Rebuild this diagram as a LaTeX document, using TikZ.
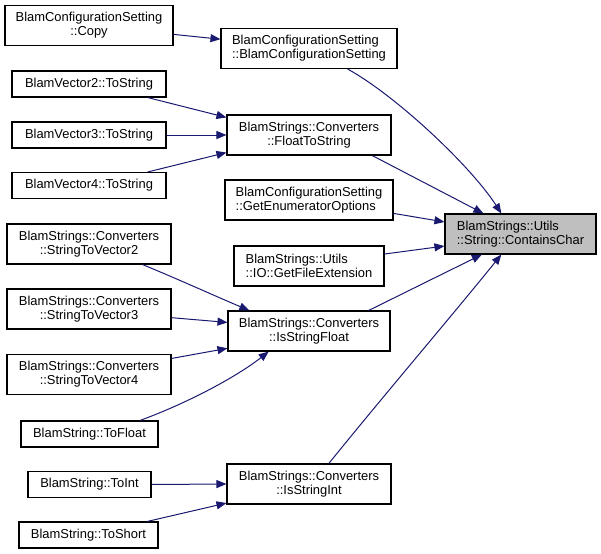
\documentclass[tikz,border=0pt]{standalone}
\usepackage{fontspec}
\setmainfont{Liberation Sans}
\usetikzlibrary{arrows.meta}
\definecolor{callnavy}{HTML}{191970}
\definecolor{callgray}{HTML}{BFBFBF}
\definecolor{callwhite}{HTML}{FFFFFF}

\begin{document}
\begin{tikzpicture}[x=0.75pt,y=-0.75pt, %1 unit = 1 pixel of the 601x554 graph, y runs down
  fn/.style={draw=black, line width=0.8pt, fill=callwhite, inner sep=0pt, align=center,
    font=\fontsize{9.7}{10.5}\selectfont, minimum height=40*0.75pt},
  fnone/.style={fn, minimum height=26*0.75pt},
  wd/.style={minimum width=#1*0.75pt},
  callee/.style={fn, fill=callgray},
  call/.style={draw=callnavy, line width=0.75pt, -{Triangle[length=7.5pt,width=6pt]}}]
\useasboundingbox (0,0) rectangle (601,554); %Page size of the graph
%Right column: the function itself
\node[callee, wd=151, align=left] (cc) at (520.5,234) {BlamStrings::Utils\\::String::ContainsChar};
%Middle column: direct callers
\node[fn, wd=176, align=left] (bcs) at (309,48.5) {BlamConfigurationSetting\\::BlamConfigurationSetting};
\node[fn, wd=164] (fts) at (309,135) {BlamStrings::Converters\\::FloatToString};
\node[fn, wd=168, align=left] (geo) at (309,200) {BlamConfigurationSetting\\::GetEnumeratorOptions};
\node[fn, wd=150, align=left] (gfe) at (309,266) {BlamStrings::Utils\\::IO::GetFileExtension};
\node[fn, wd=162] (isf) at (309,331) {BlamStrings::Converters\\::IsStringFloat};
\node[fn, wd=164] (isi) at (309,484) {BlamStrings::Converters\\::IsStringInt};
%Left column: callers of the callers
\node[fn, wd=168] (copy) at (89,25.5) {BlamConfigurationSetting\\::Copy};
\node[fnone, wd=154] (vtwo) at (89,84) {BlamVector2::ToString};
\node[fnone, wd=154] (vthree) at (89,135) {BlamVector3::ToString};
\node[fnone, wd=154] (vfour) at (89,185.5) {BlamVector4::ToString};
\node[fn, wd=164] (stvtwo) at (89,244) {BlamStrings::Converters\\::StringToVector2};
\node[fn, wd=164] (stvthree) at (89,309) {BlamStrings::Converters\\::StringToVector3};
\node[fn, wd=164] (stvfour) at (89,374.5) {BlamStrings::Converters\\::StringToVector4};
\node[fnone, wd=137] (tofloat) at (89.5,434) {BlamString::ToFloat};
\node[fnone, wd=123] (toint) at (89.5,484.5) {BlamString::ToInt};
\node[fnone, wd=139] (toshort) at (88.5,535) {BlamString::ToShort};
%Calls into ContainsChar
\draw[call] (bcs.-28) .. controls (395,95) and (470,165) .. (cc.133);
\draw[call] (fts.-18) -- (cc.151);
\draw[call] (geo.-9.5) -- (cc.171);
\draw[call] (gfe.9) -- (cc.189);
\draw[call] (isf.19) -- (cc.208);
\draw[call] (isi.46) .. controls (380,400) and (450,318) .. (cc.227);
%Calls into the middle column
\draw[call] (copy.-6) -- (bcs.174);
\draw[call] (vtwo.-13) -- (fts.168);
\draw[call] (vthree.east) -- (fts.west);
\draw[call] (vfour.13) -- (fts.192);
\draw[call] (stvtwo.-21) .. controls (180,280) and (215,296) .. (isf.161);
\draw[call] (stvthree.-6) -- (isf.174);
\draw[call] (stvfour.11) -- (isf.192);
\draw[call] (tofloat.15) .. controls (185,404) and (235,378) .. (isf.207);
\draw[call] (toint.east) -- (isi.west);
\draw[call] (toshort.13) -- (isi.193);
\end{tikzpicture}
\end{document}
